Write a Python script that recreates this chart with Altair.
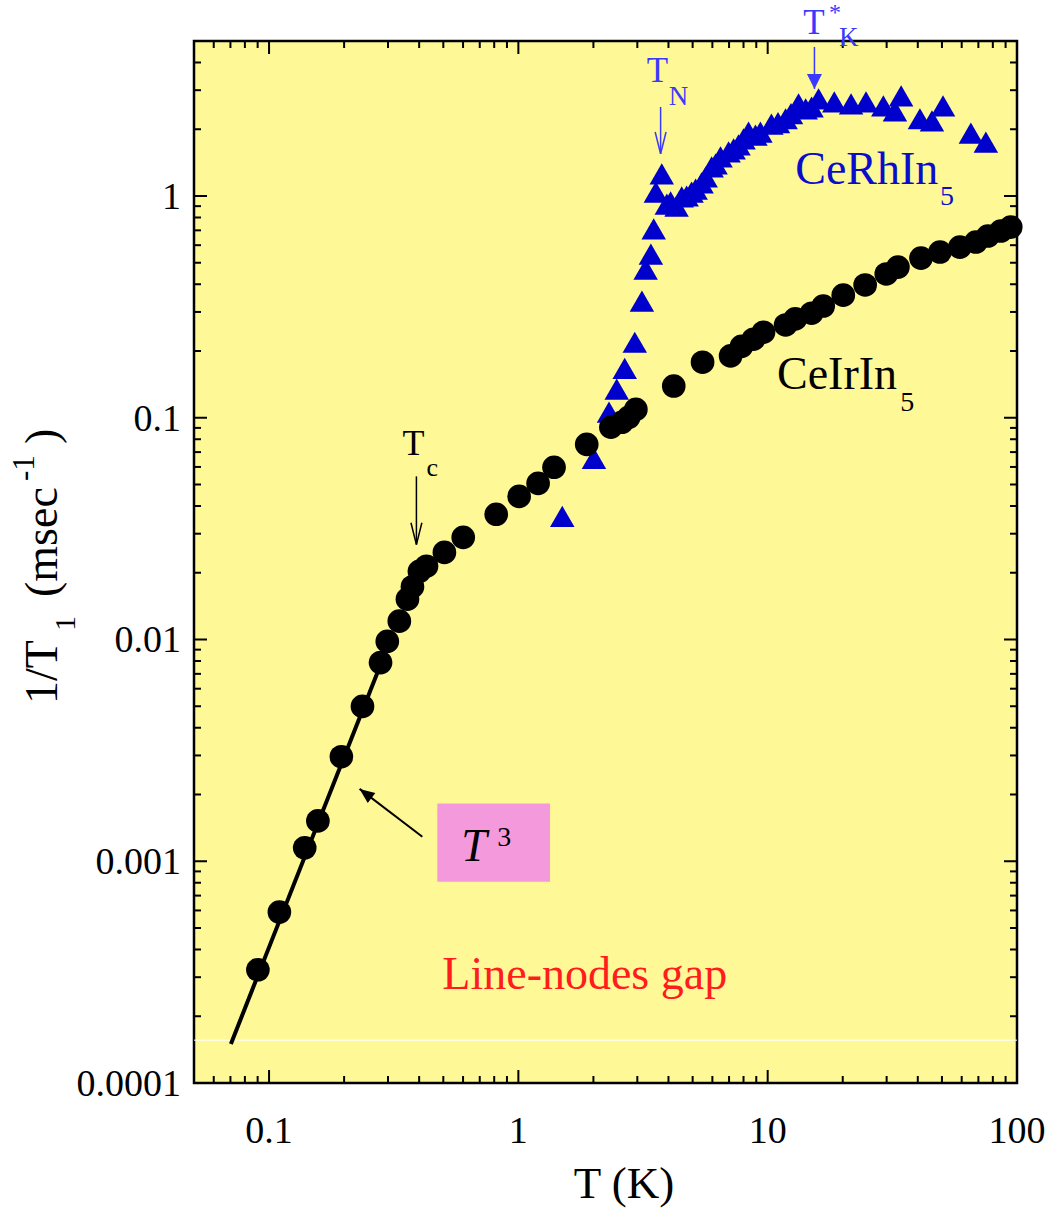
import altair as alt
import pandas as pd

# ---------------- data ----------------
# CeIrIn5 (black circles)
ir_T = [0.0902, 0.110, 0.139, 0.157, 0.195, 0.237, 0.280, 0.298, 0.333, 0.359,
        0.376, 0.401, 0.428, 0.505, 0.601, 0.815, 1.007, 1.20, 1.39, 1.88,
        2.35, 2.60, 2.77, 2.96, 4.20, 5.48, 7.10, 7.85, 8.77, 9.62,
        11.8, 12.9, 15.0, 16.7, 20.1, 24.6, 29.9, 33.3, 41.2, 49.1,
        59.0, 68.4, 76.4, 86.1, 94.4]
ir_v = [3.24e-4, 5.9e-4, 1.15e-3, 1.52e-3, 2.96e-3, 4.99e-3, 7.87e-3, 9.8e-3, 0.0121, 0.0152,
        0.0173, 0.0203, 0.0214, 0.0247, 0.0289, 0.0367, 0.0442, 0.0506, 0.0598, 0.0759,
        0.0906, 0.0954, 0.1005, 0.109, 0.139, 0.178, 0.190, 0.210, 0.226, 0.243,
        0.262, 0.279, 0.296, 0.319, 0.357, 0.397, 0.445, 0.478, 0.525, 0.559,
        0.588, 0.620, 0.660, 0.695, 0.724]

# CeRhIn5 (blue triangles)
rh_T = [1.50, 2.01, 2.31, 2.48, 2.67, 2.93, 3.13, 3.24, 3.40, 3.49,
        3.56, 3.76, 3.94, 4.08, 4.31, 4.52, 4.73, 4.95, 5.14, 5.43,
        5.64, 5.96, 6.18, 6.47, 6.97, 7.30, 7.64, 8.00, 8.38, 8.93,
        9.35, 10.35, 11.0, 11.8, 12.4, 13.3, 14.2, 15.0, 16.0, 18.5,
        21.6, 24.8, 29.1, 32.4, 34.3, 40.8, 45.6, 50.5, 65.3, 75.0]
rh_v = [0.0359, 0.0656, 0.106, 0.1345, 0.167, 0.219, 0.336, 0.468, 0.547, 0.710,
        1.04, 1.257, 0.920, 0.94, 0.90, 0.99, 1.0, 1.04, 1.075, 1.145,
        1.218, 1.352, 1.394, 1.50, 1.58, 1.63, 1.70, 1.81, 1.94, 1.88,
        1.94, 2.11, 2.14, 2.23, 2.35, 2.60, 2.47, 2.52, 2.74, 2.66,
        2.60, 2.66, 2.55, 2.42, 2.83, 2.23, 2.18, 2.55, 1.92, 1.75]

# T^3 line (end points)
fit_T = [0.0703, 0.28]
fit_v = [1.5e-4, 7.7e-3]

# axis ticks and labels
x_major = [0.1, 1, 10, 100]
x_labels = ["0.1", "1", "10", "100"]
x_minor = [0.06, 0.07, 0.08, 0.09, 0.2, 0.3, 0.4, 0.5, 0.6, 0.7, 0.8, 0.9,
           2, 3, 4, 5, 6, 7, 8, 9, 20, 30, 40, 50, 60, 70, 80, 90]
y_major = [1e-4, 1e-3, 1e-2, 0.1, 1]
y_labels = ["0.0001", "0.001", "0.01", "0.1", "1"]
y_minor = [2e-4, 3e-4, 4e-4, 5e-4, 6e-4, 7e-4, 8e-4, 9e-4,
           2e-3, 3e-3, 4e-3, 5e-3, 6e-3, 7e-3, 8e-3, 9e-3,
           0.02, 0.03, 0.04, 0.05, 0.06, 0.07, 0.08, 0.09,
           0.2, 0.3, 0.4, 0.5, 0.6, 0.7, 0.8, 0.9, 2, 3, 4]

# annotation texts (anchored in data coordinates: left / baseline)
ann_text = ["T", "c", "T", "N", "T", "*", "K", "CeRhIn", "5", "CeIrIn", "5", "Line-nodes gap", "3"]
ann_T = [0.343, 0.428, 3.27, 4.01, 13.9, 17.6, 19.3, 12.9, 49.1, 10.9, 34.0, 0.4955, 0.822]
ann_v = [0.0677, 0.0544, 3.27, 2.58, 5.35, 6.2, 4.75, 1.13, 0.911, 0.1345, 0.107, 2.66e-4, 1.17e-3]
ann_size = [36, 26, 35, 27, 35, 24, 27, 46, 28, 46, 28, 46, 28]
ann_color = ["black", "black", "#3a3aff", "#3a3aff", "#3a3aff", "#3a3aff", "#3a3aff",
             "#0c0ccc", "#0c0ccc", "black", "black", "#ff1c1c", "black"]

# arrows
arrow_T = [0.39, 3.72, 15.4]
arrow_top = [0.0544, 2.52, 4.7]
arrow_tip = [0.0268, 1.55, 3.04]
t3_arrow_T = [0.412, 0.2307]
t3_arrow_v = [1.29e-3, 2.12e-3]

# pink box around T^3
box_T = [0.473, 1.34]
box_v = [8.08e-4, 1.82e-3]

W, H = 823, 1042
FONT = "Liberation Serif"
xs = alt.Scale(type="log", domain=[0.05, 100])
ys = alt.Scale(type="log", domain=[1e-4, 5])


def X(field="T"):
    return alt.X(f"{field}:Q", scale=xs, axis=None)


def Y(field="v"):
    return alt.Y(f"{field}:Q", scale=ys, axis=None)


ir = pd.DataFrame({"T": ir_T, "v": ir_v})
rh = pd.DataFrame({"T": rh_T, "v": rh_v})
fit = pd.DataFrame({"T": fit_T, "v": fit_v})

circles = alt.Chart(ir).mark_point(shape="circle", filled=True, size=560, color="black", opacity=1).encode(
    x=X(), y=Y())

white_line = alt.Chart(pd.DataFrame({"v": [1.56e-4]})).mark_rule(color="white", strokeWidth=1).encode(y=Y())

fit_line = alt.Chart(fit).mark_line(color="black", strokeWidth=4).encode(x=X(), y=Y())

tri = alt.Chart(rh).mark_point(shape="triangle-up", filled=True, size=600, color="#0000cc", opacity=1).encode(
    x=X(), y=Y())


# ticks (inward, on all four sides)
def xticks(vals, length, top):
    df = pd.DataFrame({"T": vals})
    y1, y2 = (0, length) if top else (H, H - length)
    return alt.Chart(df).mark_rule(color="black", strokeWidth=2).encode(
        x=X(), y=alt.value(y1), y2=alt.value(y2))


def yticks(vals, length, right):
    df = pd.DataFrame({"v": vals})
    x1, x2 = (W, W - length) if right else (0, length)
    return alt.Chart(df).mark_rule(color="black", strokeWidth=2).encode(
        y=Y(), x=alt.value(x1), x2=alt.value(x2))


ticks = [xticks(x_major, 13, False), xticks(x_minor, 7, False),
         xticks(x_major, 13, True), xticks(x_minor, 7, True),
         yticks(y_major, 13, False), yticks(y_minor, 7, False),
         yticks(y_major, 13, True), yticks(y_minor, 7, True)]

# tick labels
xlab = alt.Chart(pd.DataFrame({"T": x_major, "text": x_labels})).mark_text(
    font=FONT, fontSize=38, align="center", baseline="alphabetic", color="black").encode(
    x=X(), y=alt.value(H + 60), text="text:N")
ylab = alt.Chart(pd.DataFrame({"v": y_major, "text": y_labels})).mark_text(
    font=FONT, fontSize=38, align="right", baseline="alphabetic", color="black", dy=13).encode(
    y=Y(), x=alt.value(-13), text="text:N")

# pink box
box = alt.Chart(pd.DataFrame({"T": [box_T[0]], "T2": [box_T[1]], "v": [box_v[0]], "v2": [box_v[1]]})).mark_rect(
    color="#f49adc").encode(x=X(), x2="T2:Q", y=Y(), y2="v2:Q")

# annotation texts
ann = pd.DataFrame({"T": ann_T, "v": ann_v, "text": ann_text, "fs": ann_size, "col": ann_color})
ann_layer = alt.Chart(ann).mark_text(font=FONT, align="left", baseline="alphabetic").encode(
    x=X(), y=Y(), text="text:N",
    size=alt.Size("fs:Q", scale=None, legend=None),
    color=alt.Color("col:N", scale=None, legend=None))

t3_label = alt.Chart(pd.DataFrame({"T": [0.590], "v": [1.0e-3], "text": ["T"]})).mark_text(
    font=FONT, fontStyle="italic", fontSize=46, align="left", baseline="alphabetic", color="black").encode(
    x=X(), y=Y(), text="text:N")

# arrows: shafts and heads
arr = pd.DataFrame({"T": arrow_T, "v": arrow_top, "v2": arrow_tip,
                    "col": ["black", "#3a3aff", "#3a3aff"]})
shafts = alt.Chart(arr).mark_rule(strokeWidth=1.5).encode(
    x=X(), y=Y(), y2="v2:Q", color=alt.Color("col:N", scale=None, legend=None))

open_heads = alt.Chart(arr.iloc[:2]).mark_point(
    shape="M-0.25,-1L0,0L0.25,-1", filled=False, size=1900, strokeWidth=1.5, opacity=1).encode(
    x=X(), y=Y("v2"), color=alt.Color("col:N", scale=None, legend=None))

filled_head = alt.Chart(arr.iloc[2:]).mark_point(
    shape="M-0.5,-1L0,0L0.5,-1Z", filled=True, size=900, opacity=1, color="#3a3aff").encode(
    x=X(), y=Y("v2"))

t3a = pd.DataFrame({"T": [t3_arrow_T[0]], "T2": [t3_arrow_T[1]], "v": [t3_arrow_v[0]], "v2": [t3_arrow_v[1]]})
t3_shaft = alt.Chart(t3a).mark_rule(strokeWidth=2, color="black").encode(x=X(), x2="T2:Q", y=Y(), y2="v2:Q")
t3_head = alt.Chart(pd.DataFrame({"T": [t3_arrow_T[1]], "v": [t3_arrow_v[1]]})).mark_point(
    shape="M0,0L-0.42,1L0.42,1Z", filled=True, size=900, angle=307, color="black", opacity=1).encode(
    x=X(), y=Y())

# axis titles (pixel positions relative to the plot area)
xtitle = alt.Chart(pd.DataFrame({"px": [430], "py": [H + 115], "text": ["T (K)"]})).mark_text(
    font=FONT, fontSize=45, align="center", baseline="alphabetic", color="black").encode(
    x=alt.X("px:Q", scale=None, axis=None), y=alt.Y("py:Q", scale=None, axis=None), text="text:N")

ytitle = pd.DataFrame({
    "px": [-137, -119, -137, -160, -137],
    "py": [663, 590, 556, 440, 403],
    "text": ["1/T", "1", "(msec", "-1", ")"],
    "fs": [46, 30, 46, 31, 46],
})
ytitle_layer = alt.Chart(ytitle).mark_text(font=FONT, align="left", baseline="alphabetic", angle=270,
                                           color="black").encode(
    x=alt.X("px:Q", scale=None, axis=None), y=alt.Y("py:Q", scale=None, axis=None), text="text:N",
    size=alt.Size("fs:Q", scale=None, legend=None))

chart = alt.layer(
    white_line, box, fit_line, tri, circles, *ticks, xlab, ylab, ann_layer, t3_label,
    shafts, open_heads, filled_head, t3_shaft, t3_head, xtitle, ytitle_layer,
).properties(
    width=W, height=H,
    autosize=alt.AutoSizeParams(type="none"),
    padding={"left": 194, "top": 41, "right": 33, "bottom": 125},
).configure_view(fill="#fff897", stroke="black", strokeWidth=2.5)

chart.save("out.html", embed_options={"renderer": "svg", "actions": False})
